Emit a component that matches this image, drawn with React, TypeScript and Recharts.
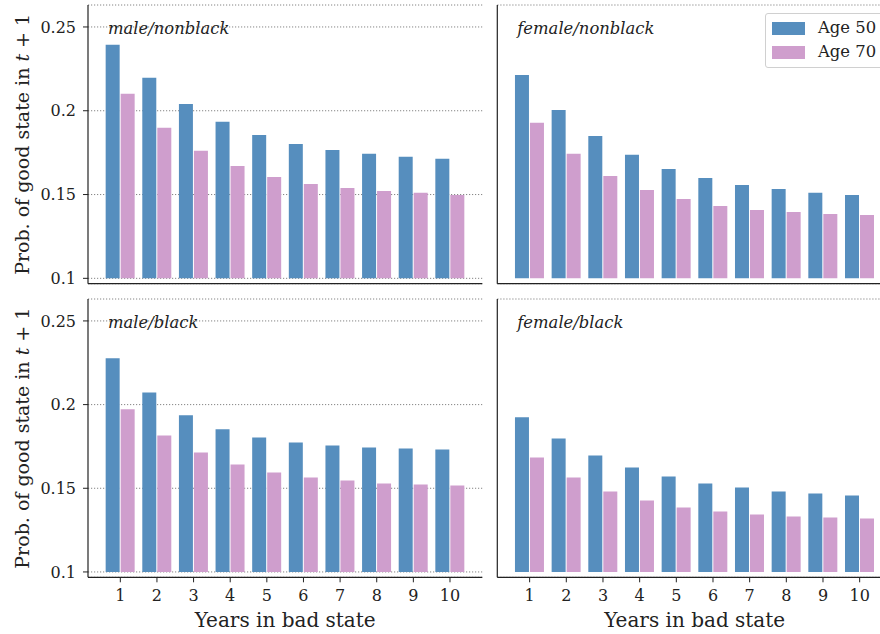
import { Bar, BarChart, CartesianGrid, XAxis, YAxis } from "recharts";

const YEARS = ["1", "2", "3", "4", "5", "6", "7", "8", "9", "10"];

const MALE_NONBLACK_50 = [0.2394, 0.2197, 0.2041, 0.1934, 0.1856, 0.1802, 0.1766, 0.1743, 0.1725, 0.1713];
const MALE_NONBLACK_70 = [0.2101, 0.1898, 0.1761, 0.1671, 0.1605, 0.1563, 0.1539, 0.1521, 0.151, 0.1498];
const FEMALE_NONBLACK_50 = [0.2214, 0.2005, 0.185, 0.1737, 0.1653, 0.1599, 0.1557, 0.1533, 0.151, 0.1498];
const FEMALE_NONBLACK_70 = [0.1928, 0.1743, 0.1611, 0.1527, 0.1474, 0.1432, 0.1408, 0.1396, 0.1384, 0.1378];
const MALE_BLACK_50 = [0.2277, 0.2073, 0.1936, 0.1852, 0.1804, 0.1774, 0.1756, 0.1744, 0.1738, 0.1732];
const MALE_BLACK_70 = [0.1972, 0.1816, 0.1714, 0.1642, 0.1594, 0.1565, 0.1547, 0.1529, 0.1523, 0.1517];
const FEMALE_BLACK_50 = [0.1924, 0.1798, 0.1696, 0.1624, 0.1571, 0.1529, 0.1505, 0.1481, 0.1469, 0.1457];
const FEMALE_BLACK_70 = [0.1684, 0.1565, 0.1481, 0.1427, 0.1385, 0.1361, 0.1343, 0.1331, 0.1325, 0.1319];

const Y_TICKS = [0.1, 0.15, 0.2, 0.25];
const Y_DOMAIN = [0.0968, 0.2631];
const BASE = 0.1;

const SERIES = [
  { key: "a50", name: "Age 50", color: "#568ebe" },
  { key: "a70", name: "Age 70", color: "#cf9ecd" },
];

const FONT = "DejaVu Serif, serif";
const INK = "#222";

type PanelProps = {
  title: string;
  v50: number[];
  v70: number[];
  left: number;
  top: number;
  width: number;
  height: number;
  margin: { top: number; right: number; bottom: number; left: number };
  yWidth: number;
  xHeight: number;
  yLabels: boolean;
  xLabels: boolean;
  legend?: boolean;
};

function YLabel(props: any) {
  const vb = props.viewBox;
  const cy = vb.y + vb.height / 2;
  return (
    <text
      x={22}
      y={cy}
      transform={`rotate(-90, 22, ${cy})`}
      textAnchor="middle"
      dominantBaseline="central"
      fontFamily={FONT}
      fontSize={19}
      fill={INK}
    >
      Prob. of good state in <tspan fontStyle="italic">t</tspan> + 1
    </text>
  );
}

function XLabel(props: any) {
  const vb = props.viewBox;
  return (
    <text
      x={vb.x + vb.width / 2}
      y={vb.y + vb.height - 6.7}
      textAnchor="middle"
      fontFamily={FONT}
      fontSize={20}
      fill={INK}
    >
      Years in bad state
    </text>
  );
}

function Panel(p: PanelProps) {
  const data = YEARS.map((year, i) => ({ year, a50: p.v50[i], a70: p.v70[i] }));
  const plotLeft = p.margin.left + p.yWidth;
  const axisLine = { stroke: INK, strokeWidth: 1.2 };
  const tickFont = { fontFamily: FONT, fontSize: 16, fill: INK };
  return (
    <div style={{ position: "absolute", left: p.left, top: p.top, width: p.width, height: p.height }}>
      <BarChart
        width={p.width}
        height={p.height}
        data={data}
        margin={p.margin}
        barCategoryGap="10%"
        barGap={1}
      >
        <CartesianGrid vertical={false} stroke="#666" strokeDasharray="1.2 1.8" strokeWidth={0.8} />
        <XAxis
          dataKey="year"
          padding={{ left: 14, right: 14 }}
          height={p.xHeight}
          tickSize={5}
          tickMargin={7}
          axisLine={axisLine}
          tickLine={{ stroke: INK, strokeWidth: 1 }}
          tick={p.xLabels ? tickFont : false}
          label={p.xLabels ? { content: XLabel } : undefined}
        />
        <XAxis
          xAxisId="top"
          orientation="top"
          dataKey="year"
          height={0}
          tick={false}
          tickLine={false}
          axisLine={axisLine}
        />
        <YAxis
          domain={Y_DOMAIN}
          allowDataOverflow
          ticks={Y_TICKS}
          width={p.yWidth}
          tickSize={5}
          tickMargin={7}
          axisLine={axisLine}
          tickLine={{ stroke: INK, strokeWidth: 1 }}
          tick={p.yLabels ? tickFont : false}
          label={p.yLabels ? { content: YLabel } : undefined}
        />
        <YAxis
          yAxisId="right"
          orientation="right"
          width={0}
          tick={false}
          tickLine={false}
          axisLine={axisLine}
        />
        {SERIES.map((s) => (
          <Bar
            key={s.key}
            name={s.name}
            dataKey={(d: any) => [BASE, d[s.key]]}
            fill={s.color}
            isAnimationActive={false}
          />
        ))}
      </BarChart>
      <div
        style={{
          position: "absolute",
          left: plotLeft + 20,
          top: p.margin.top + 13.5,
          fontFamily: FONT,
          fontStyle: "italic",
          fontSize: 16.4,
          lineHeight: "20px",
          color: INK,
          whiteSpace: "nowrap",
        }}
      >
        {p.title}
      </div>
      {p.legend && (
        <div
          style={{
            position: "absolute",
            left: 275,
            top: 13,
            width: 130,
            height: 53,
            border: "1px solid #d0d0d0",
            borderRadius: 3,
            background: "rgba(255,255,255,0.85)",
            fontFamily: FONT,
            fontSize: 16.4,
            color: INK,
          }}
        >
          {SERIES.map((s, i) => (
            <div
              key={s.key}
              style={{ position: "absolute", left: 6, top: 7 + i * 24, height: 14, display: "flex", alignItems: "center" }}
            >
              <span style={{ display: "inline-block", width: 33, height: 13, background: s.color }} />
              <span style={{ marginLeft: 13, lineHeight: "14px" }}>{s.name}</span>
            </div>
          ))}
        </div>
      )}
    </div>
  );
}

export default function App() {
  return (
    <div
      style={{
        position: "absolute",
        left: 0,
        top: 0,
        width: 880,
        height: 634,
        overflow: "hidden",
        background: "#fff",
      }}
    >
      <Panel
        title="male/nonblack"
        v50={MALE_NONBLACK_50}
        v70={MALE_NONBLACK_70}
        left={0}
        top={0}
        width={490}
        height={292}
        margin={{ top: 5, right: 7.7, bottom: 0, left: 0 }}
        yWidth={88}
        xHeight={8.3}
        yLabels
        xLabels={false}
      />
      <Panel
        title="female/nonblack"
        v50={FEMALE_NONBLACK_50}
        v70={FEMALE_NONBLACK_70}
        left={490}
        top={0}
        width={420}
        height={292}
        margin={{ top: 5, right: 18, bottom: 0, left: 0 }}
        yWidth={7.3}
        xHeight={8.3}
        yLabels={false}
        xLabels={false}
        legend
      />
      <Panel
        title="male/black"
        v50={MALE_BLACK_50}
        v70={MALE_BLACK_70}
        left={0}
        top={292}
        width={490}
        height={342}
        margin={{ top: 7, right: 7.7, bottom: 0, left: 0 }}
        yWidth={88}
        xHeight={56.7}
        yLabels
        xLabels
      />
      <Panel
        title="female/black"
        v50={FEMALE_BLACK_50}
        v70={FEMALE_BLACK_70}
        left={490}
        top={292}
        width={420}
        height={342}
        margin={{ top: 7, right: 18, bottom: 0, left: 0 }}
        yWidth={7.3}
        xHeight={56.7}
        yLabels={false}
        xLabels
      />
    </div>
  );
}
